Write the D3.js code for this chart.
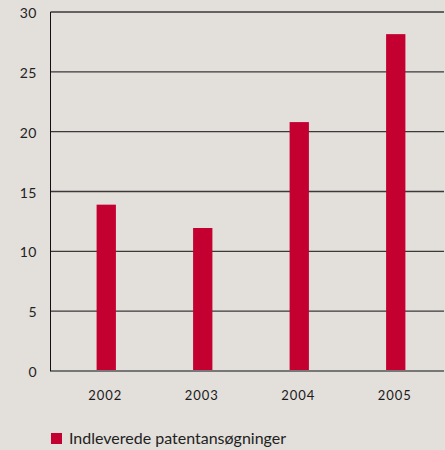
<!DOCTYPE html>
<html>
<head>
<meta charset="utf-8">
<script src="https://cdn.jsdelivr.net/npm/d3@7"></script>
<style>
  html, body { margin: 0; padding: 0; background: #e3dfda; }
  svg { display: block; }
</style>
</head>
<body>
<svg id="chart" width="445" height="450"></svg>
<script>
// Patent applications filed per year
const years = ["2002", "2003", "2004", "2005"];
const applications = [13.9, 11.95, 20.8, 28.15];
const yTicks = [0, 5, 10, 15, 20, 25, 30];
const seriesName = "Indleverede patentansøgninger";

const svg = d3.select("#chart");
const plotLeft = 50.5, plotRight = 444, plotTop = 12, plotBottom = 371;

const x = d3.scaleBand()
  .domain(years)
  .range([58, 444])
  .paddingInner(0.8)
  .paddingOuter(0.4);

const y = d3.scaleLinear().domain([0, 30]).range([plotBottom, plotTop]);

const font = "Lato, 'Open Sans', sans-serif";

// horizontal gridlines
svg.append("g")
  .selectAll("line")
  .data(yTicks.filter(d => d > 0))
  .join("line")
  .attr("x1", plotLeft).attr("x2", plotRight)
  .attr("y1", d => y(d)).attr("y2", d => y(d))
  .attr("stroke", "#3a3a3a")
  .attr("stroke-width", 1.3);

// y tick labels
svg.append("g")
  .selectAll("text")
  .data(yTicks)
  .join("text")
  .attr("x", 37)
  .attr("y", d => y(d) + 6)
  .attr("text-anchor", "end")
  .attr("font-family", font)
  .attr("font-size", 14)
  .attr("letter-spacing", 0.5)
  .attr("fill", "#222")
  .text(d => d);

// bars
svg.append("g")
  .selectAll("rect")
  .data(years.map((yr, i) => ({ yr, v: applications[i] })))
  .join("rect")
  .attr("x", d => x(d.yr))
  .attr("width", x.bandwidth())
  .attr("y", d => y(d.v))
  .attr("height", d => y(0) - y(d.v))
  .attr("fill", "#c3002f");

// baseline and left axis
svg.append("line")
  .attr("x1", plotLeft - 0.5).attr("x2", plotRight)
  .attr("y1", y(0)).attr("y2", y(0))
  .attr("stroke", "#777").attr("stroke-width", 2);
svg.append("line")
  .attr("x1", plotLeft).attr("x2", plotLeft)
  .attr("y1", plotTop).attr("y2", y(0))
  .attr("stroke", "#111").attr("stroke-width", 1);

// year labels
svg.append("g")
  .selectAll("text")
  .data(years)
  .join("text")
  .attr("x", d => x(d) + x.bandwidth() / 2 - 1)
  .attr("y", 400)
  .attr("text-anchor", "middle")
  .attr("font-family", font)
  .attr("font-size", 13)
  .attr("letter-spacing", 1)
  .attr("fill", "#1a1a1a")
  .text(d => d);

// legend
svg.append("rect")
  .attr("x", 51).attr("y", 433)
  .attr("width", 11).attr("height", 11)
  .attr("fill", "#c3002f");
svg.append("text")
  .attr("x", 69).attr("y", 444)
  .attr("font-family", font)
  .attr("font-size", 16)
  .attr("fill", "#222")
  .text(seriesName);
</script>
</body>
</html>
